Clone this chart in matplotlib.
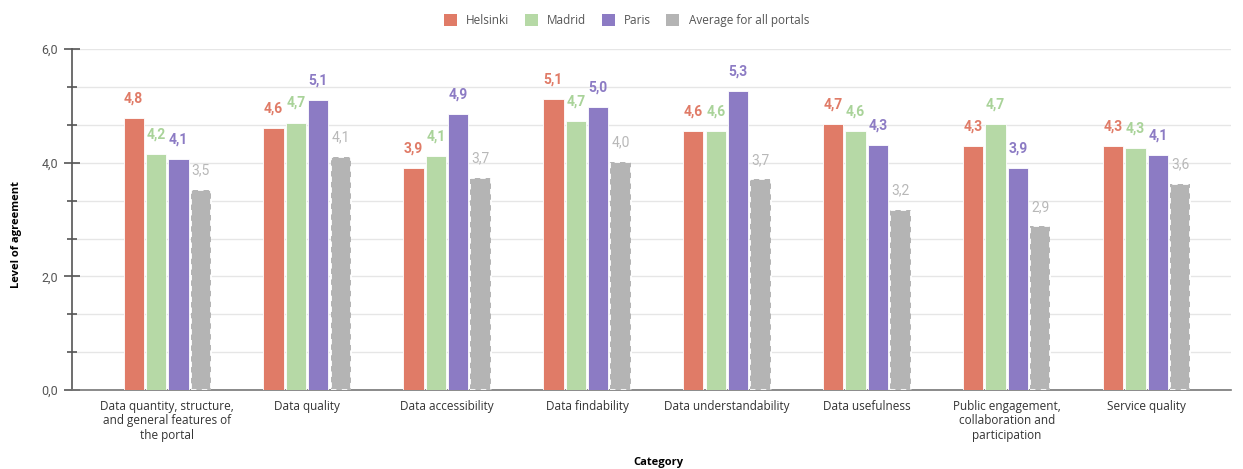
import numpy as np
import matplotlib.pyplot as plt
from matplotlib.ticker import FixedLocator
from matplotlib.patches import Patch

categories = ["Data quantity, structure,\nand general features of\nthe portal", "Data quality",
              "Data accessibility", "Data findability", "Data understandability",
              "Data usefulness", "Public engagement,\ncollaboration and\nparticipation",
              "Service quality"]
helsinki = [4.79, 4.62, 3.90, 5.12, 4.56, 4.68, 4.30, 4.30]
madrid = [4.16, 4.71, 4.12, 4.73, 4.56, 4.56, 4.68, 4.26]
paris = [4.06, 5.11, 4.86, 4.99, 5.26, 4.31, 3.90, 4.13]
average = [3.52, 4.10, 3.74, 4.02, 3.71, 3.17, 2.88, 3.63]
series_names = ["Helsinki", "Madrid", "Paris", "Average for all portals"]

colors = ["#e07b67", "#b6d9a6", "#8c7bc4", "#b4b4b4"]
label_colors = ["#e07b67", "#a9d399", "#8c7bc4", "#b8b8b8"]

fig = plt.figure(figsize=(12.43, 4.69), dpi=100)
ax = fig.add_axes([0.058, 0.1685, 0.932, 0.7265])

x = np.arange(len(categories))
step = 0.16
width = 0.145
series = [helsinki, madrid, paris, average]
for i, vals in enumerate(series):
    pos = x + (i - 1.5) * step
    if i == 3:
        ax.bar(pos, vals, width, color=colors[i], edgecolor="white",
               linewidth=1.3, linestyle=(0, (3, 3)), zorder=3)
    else:
        ax.bar(pos, vals, width, color=colors[i], edgecolor="white",
               linewidth=0.6, zorder=3)
    for p, v in zip(pos, vals):
        ax.annotate(f"{v:.1f}".replace(".", ","), (p, v), xytext=(0, 14),
                    textcoords="offset points", ha="center", va="center",
                    fontsize=10, color=label_colors[i], family="Roboto",
                    fontweight="normal" if i == 3 else "bold")

ax.set_xlim(-0.68, 7.6)
ax.set_ylim(0, 6)
ax.yaxis.set_major_locator(FixedLocator([0, 2, 4, 6]))
ax.yaxis.set_minor_locator(FixedLocator([2/3, 4/3, 8/3, 10/3, 14/3, 16/3]))
ax.set_yticklabels(["0,0", "2,0", "4,0", "6,0"], family="Roboto", fontsize=9, color="#555555")
ax.tick_params(axis="y", which="major", direction="inout", length=12, width=1.2, color="#555555", pad=4)
ax.tick_params(axis="y", which="minor", direction="inout", length=7, width=1.2, color="#555555")
ax.grid(axis="y", which="both", color="#e6e6e6", linewidth=1, zorder=0)
ax.set_axisbelow(True)

ax.set_xticks(x)
ax.set_xticklabels(categories, family="Open Sans", fontsize=8.5, color="#333333", linespacing=1.15)
ax.tick_params(axis="x", length=0, pad=7)

for s in ["top", "right"]:
    ax.spines[s].set_visible(False)
ax.spines["left"].set_color("#555555")
ax.spines["left"].set_linewidth(1.2)
ax.spines["bottom"].set_color("#777777")
ax.spines["bottom"].set_linewidth(1.2)

fig.text(0.013, 0.5, "Level of agreement", family="Open Sans", fontweight="bold", fontsize=8,
         rotation=90, ha="center", va="center")
fig.text(0.53, 0.008, "Category", family="Open Sans", fontweight="bold", fontsize=8, ha="center")

handles = [Patch(facecolor=c, edgecolor="none") for c in colors]
fig.legend(handles, series_names, loc="upper center", bbox_to_anchor=(0.504, 0.993), ncol=4,
           frameon=False, prop={"family": "Open Sans", "size": 8.5}, handlelength=1.1,
           handleheight=1.1, handletextpad=0.8, columnspacing=1.3, labelcolor="#555555")

plt.savefig("out.png", dpi=100)
